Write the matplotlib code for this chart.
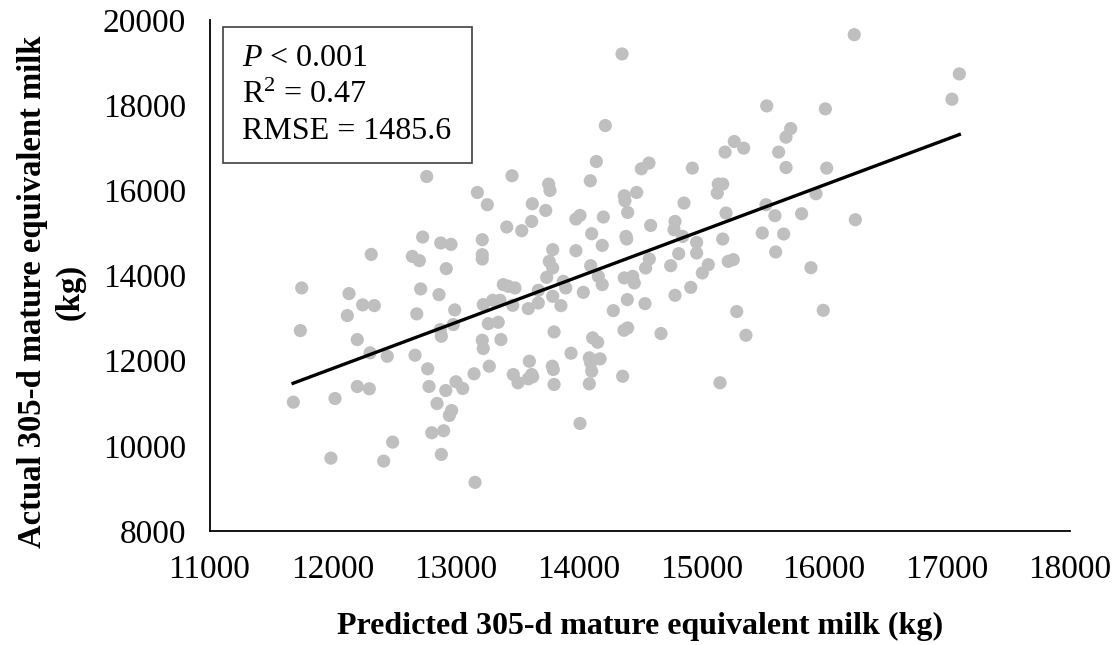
import matplotlib
matplotlib.use('Agg')
import matplotlib.pyplot as plt
from matplotlib.patches import Rectangle

plt.rcParams['font.family'] = ['Liberation Serif', 'DejaVu Serif']
plt.rcParams['mathtext.fontset'] = 'custom'
plt.rcParams['mathtext.rm'] = 'Liberation Serif'
plt.rcParams['mathtext.it'] = 'Liberation Serif:italic'

# predicted vs actual 305-d mature equivalent milk (kg)
pred = [12767, 13461, 13179, 13260, 13418, 12734, 12881, 12965, 13219, 12316,
        12650, 12707, 13219, 13219, 12926, 11750, 12135, 12718, 12867, 13390,
        13431, 13485, 12246, 12341, 12121, 12686, 12995, 13227, 13304, 13363,
        13467, 11739, 12983, 12878, 12886, 13268, 13349, 12202, 13219, 13371,
        13227, 12306, 12446, 12672, 12775, 13276, 13152, 13471, 13510, 11682,
        12021, 12202, 12300, 12786, 12922, 13005, 13060, 12851, 12970, 12951,
        12808, 12905, 12490, 11988, 12417, 12886, 13160,
        14356, 14220, 15269, 15346, 15194, 14147, 14575, 14513, 14928, 14098,
        13759, 13770, 15139, 15175, 15131, 14374, 14475, 14380, 13626, 14860,
        13735, 15202, 13540, 13621, 13981, 14014, 14204, 14402, 14589, 14787,
        14779, 14109, 14388, 14394, 14849, 15175, 13792, 13981, 14195, 14963,
        14963, 14817, 13764, 13792, 14101, 14578, 14548, 14752, 15058, 15009,
        15220, 15261, 13743, 14163, 14195, 13878, 13898, 14374, 14443, 14456,
        13675, 14041, 13792, 14915, 14787, 13593, 13675, 13859, 14399, 14285,
        14543, 15289, 13803, 14372, 14402, 14673, 15364, 14117, 14158, 13941,
        14090, 14101, 14177, 13602, 13789, 13621, 14361,
        13593, 13629, 13797, 13803, 14109, 14090, 15153, 14014,
        16245, 17100, 17040, 15533, 16010, 15728, 15690, 15630, 15690, 16021, 15934,
        15527, 15600, 15817, 16254, 15497, 15671, 15606, 15893, 15993]
actual = [16325, 16342, 15950, 15662, 15139, 14904, 14764, 14731, 14841, 14496,
          14449, 14349, 14489, 14388, 14161, 13708, 13575, 13685, 13551, 13786,
          13746, 13708, 13310, 13293, 13059, 13099, 13192, 13317, 13418, 13418,
          13300, 12707, 12848, 12731, 12573, 12871, 12902, 12496, 12480, 12496,
          12285, 12184, 12104, 12128, 11809, 11870, 11692, 11675, 11481, 11026,
          11112, 11394, 11340, 11394, 11300, 11504, 11347, 10995, 10831, 10714,
          10308, 10355, 10088, 9712, 9642, 9799, 9143,
          19203, 17521, 17146, 16991, 16898, 16677, 16640, 16506, 16522, 16225,
          16147, 15997, 16147, 16147, 15936, 15873, 15950, 15756, 15685, 15702,
          15528, 15467, 15052, 15270, 15326, 15411, 15373, 15481, 15176, 15270,
          15076, 14982, 14918, 14857, 14918, 14857, 14607, 14583, 14707, 14778,
          14529, 14513, 14331, 14177, 14231, 14388, 14177, 14231, 14255, 14060,
          14332, 14372, 13957, 13980, 13786, 13863, 13708, 13943, 13980, 13826,
          13652, 13605, 13511, 13722, 13535, 13223, 13356, 13293, 13434, 13176,
          13340, 13153, 12676, 12714, 12770, 12637, 12597, 12536, 12433, 12175,
          12067, 11950, 12043, 11987, 11870, 11675, 11635,
          11574, 11621, 11793, 11441, 11753, 11457, 11481, 10526,
          19655, 18734, 18140, 17983, 17913, 17451, 17249, 16898, 16536, 16522, 15920,
          15662, 15404, 15451, 15310, 14998, 14975, 14553, 14184, 13183]

# trend line ends
fit_x = [11680, 17100]
fit_y = [11470, 17310]

stats = [r'$\mathit{P}$ < 0.001', r'R$^{2}$ = 0.47', 'RMSE = 1485.6']

fig = plt.figure(figsize=(11.15, 6.45), dpi=100)
ax = fig.add_axes([0.1879, 0.1767, 0.7717, 0.7923])

ax.scatter(pred, actual, s=90, color='#BFBFBF', edgecolors='none', zorder=2)
ax.plot(fit_x, fit_y, color='black', lw=2.4, zorder=3)

ax.set_xlim(11000, 18000)
ax.set_ylim(8000, 20000)
ax.set_xticks(range(11000, 18001, 1000))
ax.set_yticks(range(8000, 20001, 2000))
ax.tick_params(length=0, labelsize=24, pad=17)
ax.tick_params(axis='x', pad=17)
for s in ['top', 'right']:
    ax.spines[s].set_visible(False)
for s in ['left', 'bottom']:
    ax.spines[s].set_linewidth(1.3)

fig.text(0.574, 0.028, 'Predicted 305-d mature equivalent milk (kg)',
         ha='center', va='center', fontsize=23, fontweight='bold')
fig.text(0.046, 0.547, 'Actual 305-d mature equivalent milk\n(kg)',
         ha='center', va='center', rotation=90, fontsize=23.5, fontweight='bold',
         multialignment='center', linespacing=1.3)

# stats box
fig.patches.append(Rectangle((0.1997, 0.7478), 0.2233, 0.2109, transform=fig.transFigure,
                             fill=False, edgecolor='#404040', lw=1.2))
for txt, yy in zip(stats, [0.8981, 0.8403, 0.7845]):
    fig.text(0.2168, yy, txt, ha='left', va='baseline', fontsize=23)

fig.savefig('out.png', dpi=100)
